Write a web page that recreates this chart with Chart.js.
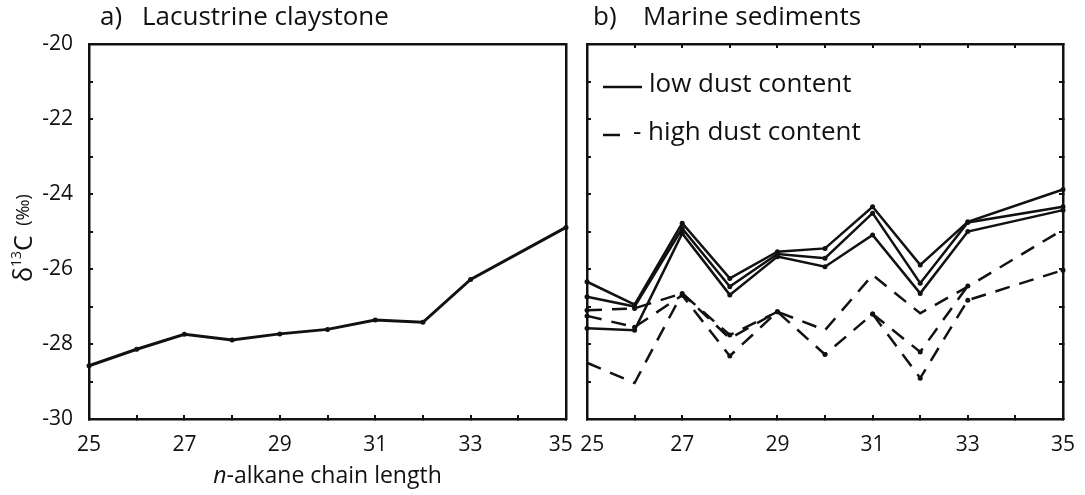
<!DOCTYPE html>
<html>
<head>
<meta charset="utf-8">
<script src="https://cdn.jsdelivr.net/npm/chart.js@4.4.1/dist/chart.umd.min.js"></script>
<style>
  html, body { margin: 0; padding: 0; background: #fff; }
  #wrap { position: relative; width: 1085px; height: 495px; overflow: hidden; }
  canvas { position: absolute; top: 0; left: 0; }
</style>
</head>
<body>
<div id="wrap">
  <canvas id="left" width="1085" height="495"></canvas>
  <canvas id="right" width="1085" height="495"></canvas>
</div>
<script>
// n-alkane chain lengths (x axis)
var chainLength = [25, 26, 27, 28, 29, 30, 31, 32, 33, 34, 35];

// a) lacustrine claystone, d13C (permil)
var lacustrine = [-28.58, -28.14, -27.74, -27.89, -27.73, -27.61, -27.36, -27.42, -26.28, null, -24.89];

// b) marine sediments, low dust content
var lowDust1 = [-26.34, -26.95, -24.78, -26.25, -25.54, -25.45, -24.34, -25.89, -24.74, null, -23.88];
var lowDust2 = [-26.74, -27.0, -24.92, -26.47, -25.6, -25.71, -24.51, -26.38, -24.76, null, -24.34];
var lowDust3 = [-27.58, -27.63, -25.05, -26.69, -25.67, -25.94, -25.09, -26.65, -25.0, null, -24.43];

// b) marine sediments, high dust content
var highDust1 = [-28.5, -29.04, -26.65, -27.85, -27.14, -27.63, -26.16, -27.18, -26.47, null, -24.95];
var highDust2 = [-27.25, -27.55, -26.7, -28.32, -27.14, -28.28, -27.2, -28.91, -26.83, null, -26.03];
var highDust3 = [-27.1, -27.05, -26.65, -27.76, -27.14, null, -27.2, -28.21, -26.45, null, null];

var yTickValues = [-20, -22, -24, -26, -28, -30];
var xTickValues = [25, 27, 29, 31, 33, 35];

var FONT = "'Open Sans', 'DejaVu Sans', sans-serif";
var INK = "#111";
var PAD = "\u2009\u2009\u2009"; // keeps 35 and 25 apart where the panels meet

// draws panel labels, axis titles and the legend
var panelText = {
  id: "panelText",
  afterDraw: function (chart, args, opts) {
    var ctx = chart.ctx;
    ctx.save();
    ctx.fillStyle = INK;
    ctx.textBaseline = "middle";
    ctx.font = "26px " + FONT;
    ctx.fillText(opts.tag, opts.tagX, 18);
    ctx.fillText(opts.title, opts.titleX, 18);

    if (opts.axisTitles) {
      // x title with italic n
      var ital = "italic 23px " + FONT;
      var norm = "23px " + FONT;
      ctx.font = ital;
      var w1 = ctx.measureText("n").width;
      ctx.font = norm;
      var w2 = ctx.measureText("-alkane chain length").width;
      var cx = (chart.chartArea.left + chart.chartArea.right) / 2;
      var x0 = cx - (w1 + w2) / 2;
      ctx.font = ital;
      ctx.fillText("n", x0, 476);
      ctx.font = norm;
      ctx.fillText("-alkane chain length", x0 + w1, 476);

      // y title: delta 13 C (permil)
      ctx.translate(25, 238);
      ctx.rotate(-Math.PI / 2);
      var parts = [
        { t: "\u03b4", f: "25px " + FONT, dy: 0 },
        { t: "13", f: "14px " + FONT, dy: -8 },
        { t: "C", f: "25px " + FONT, dy: 0 },
        { t: "  (\u2030)", f: "18px " + FONT, dy: -1 }
      ];
      var total = 0;
      parts.forEach(function (p) { ctx.font = p.f; p.w = ctx.measureText(p.t).width; total += p.w; });
      var px = -total / 2;
      parts.forEach(function (p) {
        ctx.font = p.f;
        ctx.fillText(p.t, px, p.dy);
        px += p.w;
      });
    }

    if (opts.legend) {
      var ox = chart.chartArea.left;
      ctx.strokeStyle = INK;
      ctx.lineWidth = 2.5;
      ctx.beginPath();
      ctx.moveTo(ox + 16, 87);
      ctx.lineTo(ox + 55, 87);
      ctx.stroke();
      ctx.beginPath();
      ctx.moveTo(ox + 16, 135);
      ctx.lineTo(ox + 33, 135);
      ctx.stroke();
      ctx.font = "26px " + FONT;
      ctx.textBaseline = "middle";
      ctx.fillText("low dust content", ox + 62, 85);
      ctx.fillText("- high dust content", ox + 46, 133);
    }
    ctx.restore();
  }
};

function noOverhang(s) {
  s.paddingLeft = 0;
  s.paddingRight = 0;
}

function boxAxes(opts) {
  // inward ticks and a full frame, sizes fixed so the plot areas line up
  var tickGrid = { drawOnChartArea: false, color: INK, lineWidth: 2, tickLength: -4 };
  var plainGrid = { drawOnChartArea: false, color: INK, lineWidth: 2, tickLength: 0, drawTicks: false };
  var border = { display: true, color: INK, width: 2.5 };
  var sideGrid = opts.ticksAllSides ? tickGrid : plainGrid;
  return {
    x: {
      type: "category",
      labels: chainLength,
      offset: false,
      grid: tickGrid,
      border: border,
      ticks: {
        autoSkip: false,
        maxRotation: 0,
        padding: 17,
        color: INK,
        font: { family: FONT, size: 21 },
        callback: function (v, i) {
          var n = chainLength[i];
          if (xTickValues.indexOf(n) < 0) return "";
          if (opts.side === "left" && i === chainLength.length - 1) return n + PAD;
          if (opts.side === "right" && i === 0) return PAD + n;
          return String(n);
        }
      },
      afterFit: function (s) { s.height = 76; noOverhang(s); }
    },
    y: {
      min: -30,
      max: -20,
      grid: tickGrid,
      border: border,
      ticks: {
        stepSize: 1,
        padding: 20,
        display: opts.yLabels,
        color: INK,
        font: { family: FONT, size: 21 },
        callback: function (v) {
          return yTickValues.indexOf(v) >= 0 ? String(v) : "";
        }
      },
      afterFit: function (s) { s.width = opts.yWidth; }
    },
    x2: {
      type: "category",
      labels: chainLength,
      offset: false,
      position: "top",
      grid: sideGrid,
      border: border,
      ticks: { display: false, autoSkip: false },
      afterFit: function (s) { s.height = 0; noOverhang(s); }
    },
    y2: {
      position: "right",
      min: -30,
      max: -20,
      grid: sideGrid,
      border: border,
      ticks: { display: false, stepSize: 1 },
      afterFit: function (s) { s.width = 0; }
    }
  };
}

function series(data, dashed, points, width, span) {
  return {
    data: data,
    borderColor: INK,
    backgroundColor: INK,
    borderWidth: width,
    borderDash: dashed ? [15, 10] : [],
    pointRadius: points ? 2.5 : 0,
    pointBorderWidth: 0,
    pointBackgroundColor: INK,
    spanGaps: span !== false,
    tension: 0,
    fill: false
  };
}

// Lacustrine claystone
var leftChart = new Chart(document.getElementById("left").getContext("2d"), {
  type: "line",
  data: {
    labels: chainLength,
    datasets: [series(lacustrine, false, true, 3)]
  },
  options: {
    responsive: false,
    animation: false,
    devicePixelRatio: 1,
    layout: { padding: { top: 44, right: 1085 - 566, left: 0, bottom: 0 } },
    plugins: {
      legend: { display: false },
      tooltip: { enabled: false },
      panelText: { tag: "a)", tagX: 100, title: "Lacustrine claystone", titleX: 142, axisTitles: true, legend: false }
    },
    scales: boxAxes({ yWidth: 89, yLabels: true, ticksAllSides: false, side: "left" })
  },
  plugins: [panelText]
});

// Marine sediments
var rightChart = new Chart(document.getElementById("right").getContext("2d"), {
  type: "line",
  data: {
    labels: chainLength,
    datasets: [
      series(lowDust1, false, true, 2.5),
      series(lowDust2, false, true, 2.5),
      series(lowDust3, false, true, 2.5),
      series(highDust1, true, false, 2.5),
      series(highDust2, true, true, 2.5),
      series(highDust3, true, true, 2.5, false)
    ]
  },
  options: {
    responsive: false,
    animation: false,
    devicePixelRatio: 1,
    layout: { padding: { top: 44, right: 1085 - 1063, left: 575, bottom: 0 } },
    plugins: {
      legend: { display: false },
      tooltip: { enabled: false },
      panelText: { tag: "b)", tagX: 593, title: "Marine sediments", titleX: 643, axisTitles: false, legend: true }
    },
    scales: boxAxes({ yWidth: 12, yLabels: false, ticksAllSides: true, side: "right" })
  },
  plugins: [panelText]
});
</script>
</body>
</html>
